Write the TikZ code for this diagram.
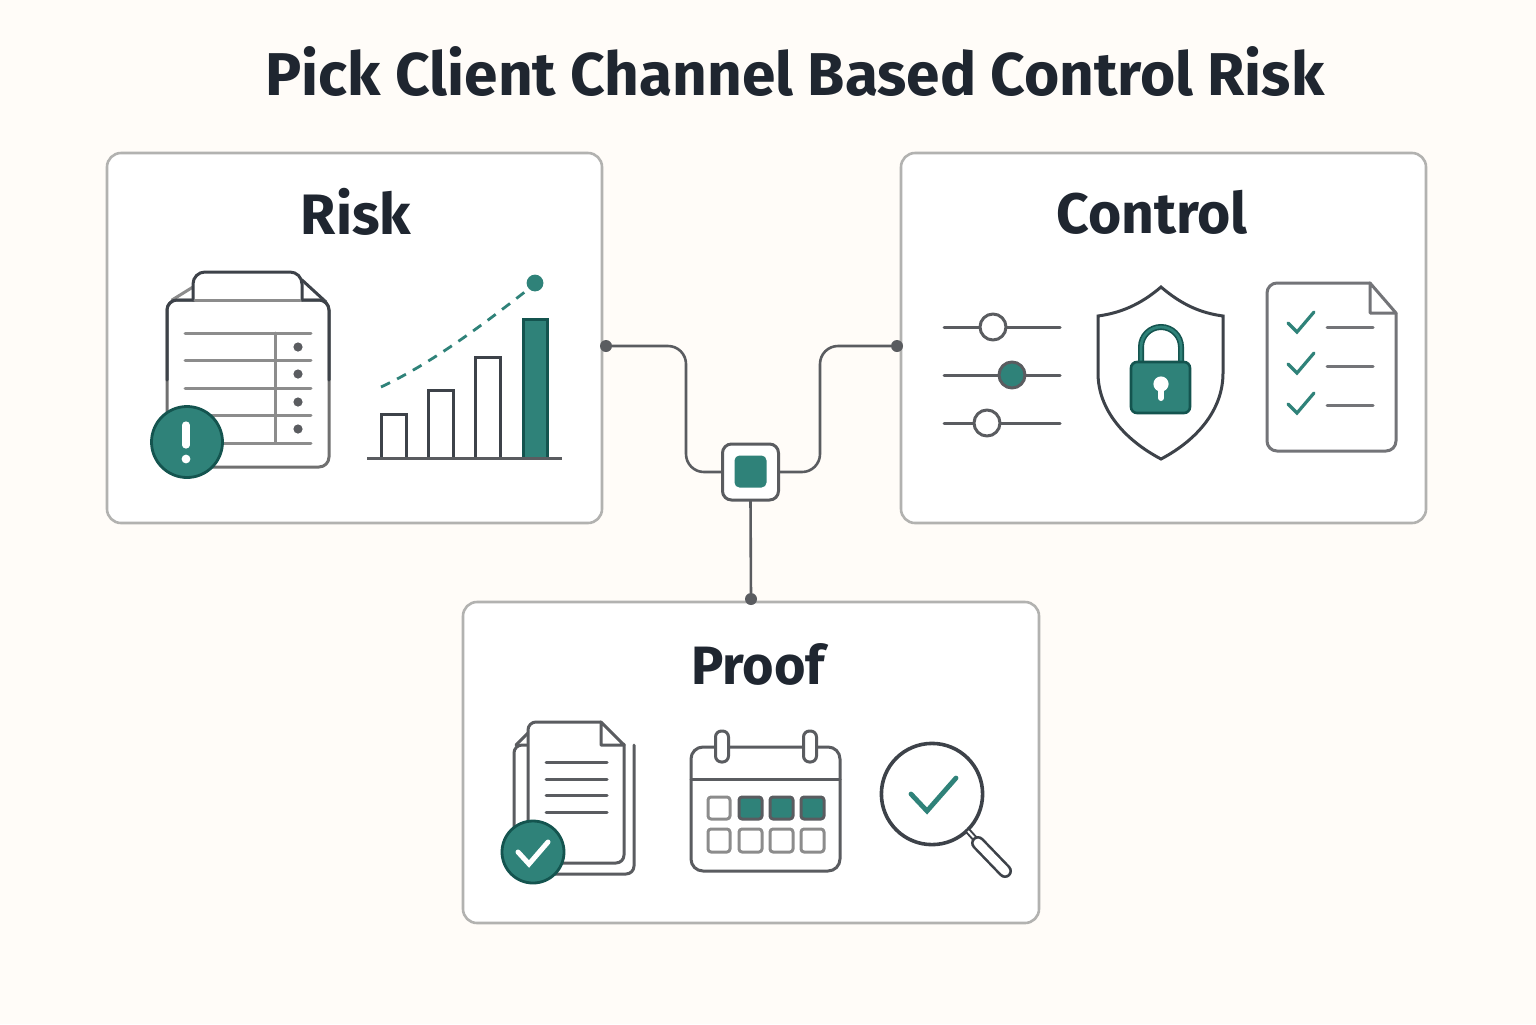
\documentclass[tikz,border=0pt]{standalone}
\usepackage{fontspec}
\usepackage{xcolor}
\setmainfont{Fira Sans}
\definecolor{paper}{HTML}{FFFCF8}
\definecolor{ink}{HTML}{1F2630}
\definecolor{dark}{HTML}{3D4249}
\definecolor{mid}{HTML}{5A5C60}
\definecolor{soft}{HTML}{8C8C8C}
\definecolor{edge}{HTML}{B2B2B0}
\definecolor{teal}{HTML}{2F8279}
\definecolor{deep}{HTML}{14544F}
\tikzset{
  panel/.style={draw=edge, line width=1.3pt, fill=white, rounded corners=7pt, minimum width=#1, inner sep=0pt, outer sep=0pt},
  heading/.style={font=\fontsize{28.5}{34}\selectfont\bfseries, text=ink, inner sep=0pt},
  port/.style={circle, fill=mid, minimum size=6pt, inner sep=0pt, outer sep=0pt},
  wire/.style={draw=mid, line width=1.3pt, rounded corners=9pt},
  icon/.style={draw=mid, line width=1.5pt, line cap=round, line join=round},
  rule/.style={draw=soft, line width=1.5pt, line cap=round},
  tick/.style={draw=teal, line width=1.6pt, line cap=round, line join=miter},
  badge/.style={circle, draw=deep, fill=teal, line width=1.4pt, inner sep=0pt},
}
\begin{document}
\begin{tikzpicture}[x=0.5pt,y=-0.5pt]
\useasboundingbox[fill=paper] (0,0) rectangle (1536,1024);

% Title
\node[font=\fontsize{30.2}{36}\selectfont\bfseries, text=ink, inner sep=0pt] (title) at (795,72) {Pick Client Channel Based Control Risk};

% Panels
\node[panel=247.5pt, minimum height=185pt] (risk) at (354.5,338) {};
\node[panel=262.5pt, minimum height=185pt] (control) at (1163.5,338) {};
\node[panel=288pt, minimum height=160.5pt] (proof) at (751,762.5) {};

\node[heading] (risklabel) at (356,212) {Risk};
\node[heading] (controllabel) at (1152,212) {Control};
\node[heading, font=\fontsize{27}{34}\selectfont\bfseries] (prooflabel) at (758,664) {Proof};

% Hub and connectors
\node[draw=mid, line width=1.5pt, fill=white, rounded corners=4.5pt, minimum size=28pt, inner sep=0pt, outer sep=0pt] (hub) at (750.5,472) {};
\node[fill=teal, rounded corners=2.5pt, minimum size=16pt, inner sep=0pt] (hubcore) at (750.5,471.5) {};
\node[port] (riskport) at (606,346) {};
\node[port] (controlport) at (897,346) {};
\node[port] (proofport) at (751,599) {};
\coordinate (leftbend) at (686,472);
\coordinate (rightbend) at (820,472);
\draw[wire] (riskport) -| (leftbend) -- (hub.west);
\draw[wire] (controlport) -| (rightbend) -- (hub.east);
\draw[wire] (hub.south) -- (proofport);

% Risk: report sheet
\draw[icon, draw=soft] (172,300) -- (193,287);
\draw[icon, draw=dark] (302,280) -- (326,302);
\draw[icon, draw=soft!80!black, fill=white, rounded corners=5pt] (167,300) rectangle (329,467);
\draw[icon, draw=dark, rounded corners=5pt] (167,380) -- (167,300) -- (195,300);
\draw[icon, draw=dark, rounded corners=5pt] (302,300) -- (329,300) -- (329,380);
\draw[icon, draw=dark, fill=white, rounded corners=6pt] (193,300) -- (193,272) -- (302,272) -- (302,300);
\draw[rule, draw=soft] (195,300) -- (300,300);
\foreach \y in {333,360,388,415,443}
\draw[rule] (185,\y) -- (311,\y);
\draw[rule] (275,333) -- (275,443);
\foreach \y in {347,374,402,429}
\fill[mid] (298,\y) circle (2.3pt);
\node[badge, minimum size=35.5pt] (alert) at (187,442) {};
\draw[white, line width=3.6pt, line cap=round] (186,425) -- (186,445);
\fill[white] (186,459) circle (2.2pt);

% Risk: growth chart
\foreach \xa/\xb/\ytop in {381/406/414,428/453/390,475/500/357}
\draw[icon, draw=dark, line cap=butt, line join=miter] (\xa,458) -- (\xa,\ytop) -- (\xb,\ytop) -- (\xb,458);
\draw[icon, draw=deep, fill=teal, line join=miter] (523,458) rectangle (547,319);
\draw[icon, line cap=butt] (367,458) -- (562,458);
\draw[teal, line width=1.4pt, dash pattern=on 5pt off 4pt] (381,387) .. controls (430,364) and (480,327) .. (526,291);
\fill[teal] (535,283) circle (4.2pt);

% Control: sliders
\foreach \y/\xk/\tone in {327/993/white,375/1012/teal,423/987/white}{
\draw[icon] (944,\y) -- (1060,\y);
\draw[icon, fill=\tone] (\xk,\y) circle (6.5pt);
}

% Control: shield and lock
\draw[icon, draw=dark, line join=miter] (1161,287) .. controls (1140,305) and (1120,313) .. (1098,316) -- (1098,373) .. controls (1098,410) and (1125,440) .. (1161,459) .. controls (1197,440) and (1223,410) .. (1223,373) -- (1223,316) .. controls (1201,313) and (1182,305) .. (1161,287) -- cycle;
\draw[deep, line width=3pt] (1141,362) -- (1141,347) arc (180:0:10pt) -- (1181,362);
\draw[teal, line width=1.4pt] (1141,362) -- (1141,347) arc (180:0:10pt) -- (1181,362);
\draw[deep, line width=1.3pt, fill=teal, rounded corners=3pt] (1131,362) rectangle (1190,413);
\fill[white] (1161,384) circle (3.8pt);
\draw[white, line width=3pt, line cap=round] (1161,386) -- (1161,398);

% Control: checklist
\draw[icon, draw=mid!85!white, rounded corners=5pt] (1370,283) -- (1267,283) -- (1267,451) -- (1396,451) -- (1396,313);
\draw[icon, draw=mid!85!white] (1370,283) -- (1396,313) -- (1370,313) -- cycle;
\foreach \y/\yl in {0/327,41/366,81/405}{
\draw[tick] (1288,323+\y) -- (1297,332+\y) -- (1314,312+\y);
\draw[icon, draw=mid!85!white] (1327,\yl) -- (1373,\yl);
}

% Proof: stacked pages
\draw[icon, rounded corners=4pt] (528,745) -- (514,745) -- (514,874) -- (634,874) -- (634,745);
\draw[icon, draw=mid] (516,745) -- (528,733);
\draw[icon, fill=white, rounded corners=4pt] (601,722) -- (528,722) -- (528,863) -- (624,863) -- (624,744);
\draw[icon] (601,722) -- (624,745) -- (601,745) -- cycle;
\foreach \y in {762,779,795,812}
\draw[icon] (546,\y) -- (607,\y);
\node[badge, minimum size=31pt] (stamp) at (533,852) {};
\draw[white, line width=2.5pt, line cap=round, line join=miter] (518,852) -- (529,864) -- (548,842);

% Proof: calendar
\draw[icon, rounded corners=6pt] (691,747) rectangle (840,871);
\draw[icon] (691,779) -- (840,779);
\foreach \x in {722,810}
\draw[icon, fill=white, rounded corners=3pt] (\x-6.5,731) rectangle (\x+6.5,762);
\foreach \xa/\xb in {708/730,739/762,770/793,801/824}{
\draw[icon, draw=soft, rounded corners=1.5pt] (\xa,829) rectangle (\xb,852);
}
\draw[icon, draw=soft, rounded corners=1.5pt] (708,797) rectangle (730,819);
\foreach \xa/\xb in {739/762,770/793,801/824}
\draw[icon, fill=teal, rounded corners=1.5pt] (\xa,797) rectangle (\xb,819);

% Proof: magnifier
\draw[icon, draw=dark, line width=1.8pt] (932,794) circle (25.3pt);
\draw[tick, line width=2.4pt] (911,794) -- (927,811) -- (956,778);
\draw[icon, draw=dark, line width=3pt, line cap=butt] (968,831) -- (977,841);
\draw[white, line width=1pt] (968,831) -- (977,841);
\draw[draw=dark, line width=7pt, line cap=round] (978,843) -- (1005,871);
\draw[white, line width=4.4pt, line cap=round] (978,843) -- (1005,871);

\end{tikzpicture}
\end{document}
